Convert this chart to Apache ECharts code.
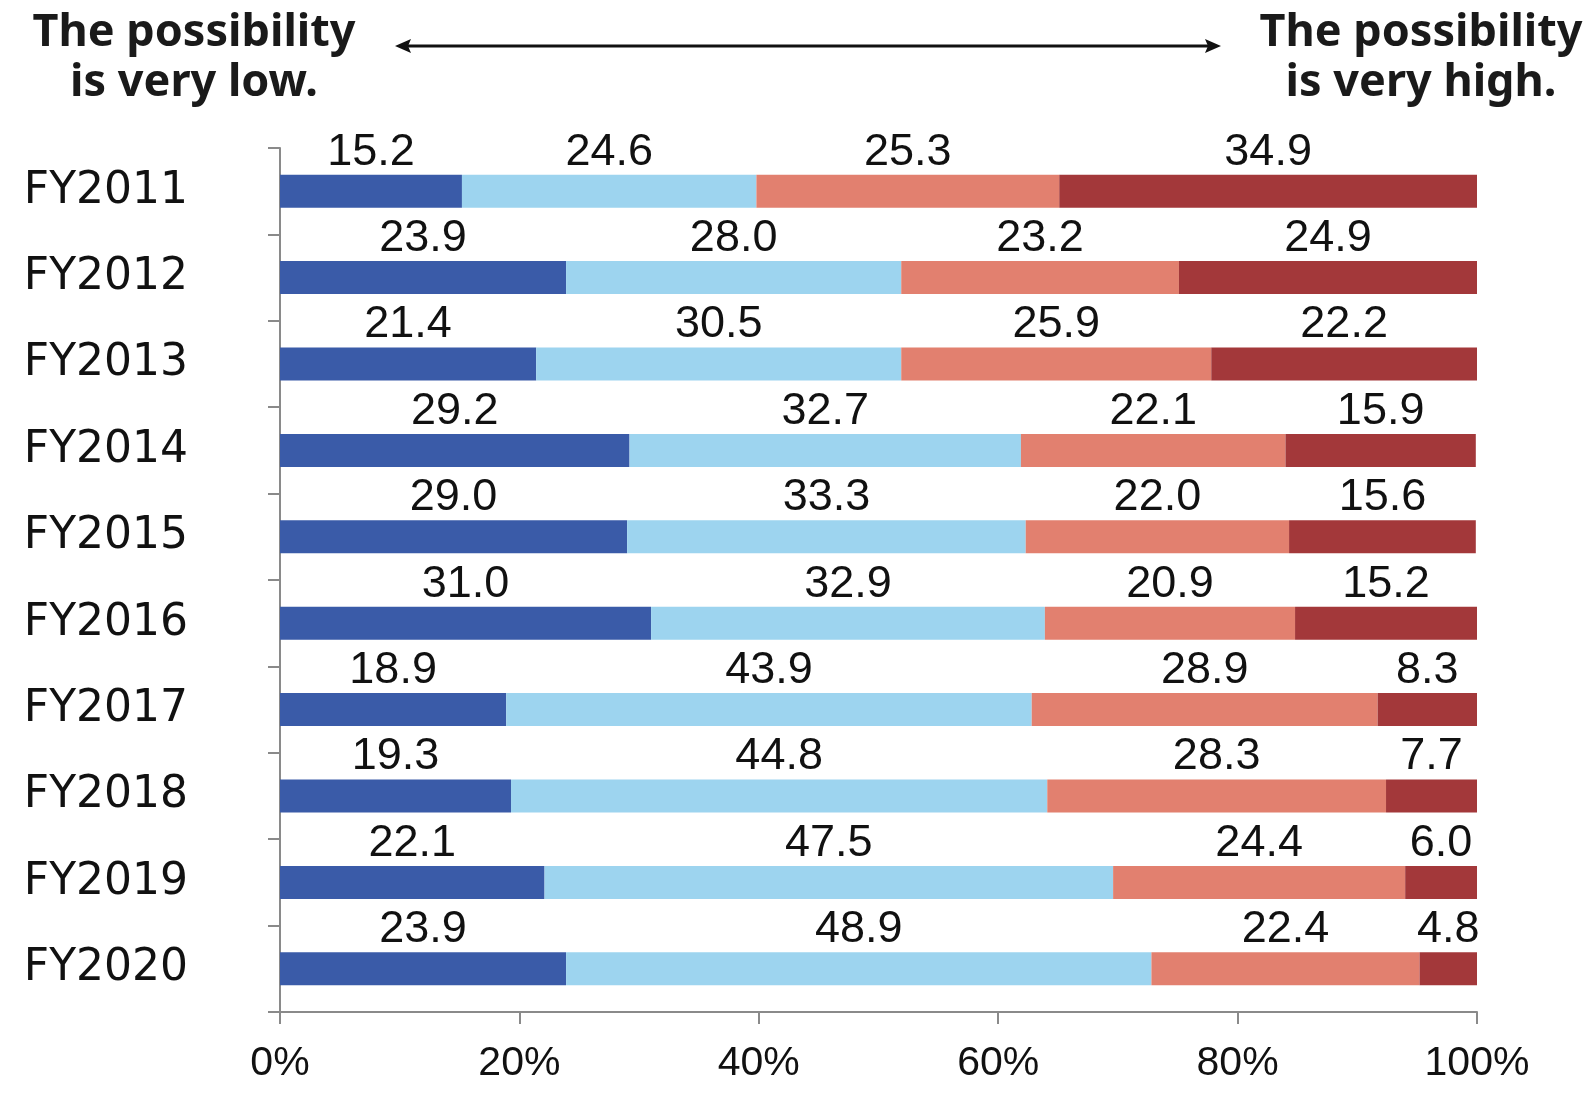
<!DOCTYPE html>
<html>
<head>
<meta charset="utf-8">
<script src="https://cdn.jsdelivr.net/npm/echarts@6/dist/echarts.min.js"></script>
<style>html,body{margin:0;padding:0;background:#fff}#c{width:1596px;height:1098px}</style>
</head>
<body>
<div id="c"></div>
<script>
const categories = ['FY2011','FY2012','FY2013','FY2014','FY2015','FY2016','FY2017','FY2018','FY2019','FY2020'];
const veryLow  = [15.2, 23.9, 21.4, 29.2, 29.0, 31.0, 18.9, 19.3, 22.1, 23.9];
const low      = [24.6, 28.0, 30.5, 32.7, 33.3, 32.9, 43.9, 44.8, 47.5, 48.9];
const high     = [25.3, 23.2, 25.9, 22.1, 22.0, 20.9, 28.9, 28.3, 24.4, 22.4];
const veryHigh = [34.9, 24.9, 22.2, 15.9, 15.6, 15.2, 8.3, 7.7, 6.0, 4.8];
const xTicks = [0, 20, 40, 60, 80, 100];
const leftHeading = 'The possibility\nis very low.';
const rightHeading = 'The possibility\nis very high.';

const colors = ['#3A5BA8', '#9DD4EF', '#E2806F', '#A3383A'];
const chart = echarts.init(document.getElementById('c'), null, {renderer: 'canvas'});

function mk(name, data, color) {
  return {
    name, type: 'bar', stack: 'all', data, barWidth: 33,
    itemStyle: {color},
    label: {
      show: true, position: 'top', distance: 0,
      formatter: p => p.value.toFixed(1),
      fontFamily: 'Liberation Sans, Arial, sans-serif', fontSize: 45, color: '#111'
    },
    emphasis: {disabled: true}
  };
}

const headFont = 'bold 45px "Noto Sans", sans-serif';
chart.setOption({
  animation: false,
  backgroundColor: '#fff',
  grid: {left: 280, right: 119, top: 148, bottom: 86, containLabel: false},
  xAxis: {
    type: 'value', min: 0, max: 100, interval: 20,
    axisLine: {show: true, lineStyle: {color: '#8a8a8a', width: 2}},
    axisTick: {show: true, length: 12, lineStyle: {color: '#8a8a8a', width: 2}},
    splitLine: {show: false},
    axisLabel: {
      margin: 31, fontFamily: 'Liberation Sans, Arial, sans-serif', fontSize: 41, color: '#111',
      formatter: v => xTicks.includes(v) ? v + '%' : ''
    }
  },
  yAxis: {
    type: 'category', data: categories, inverse: true,
    axisLine: {show: true, lineStyle: {color: '#8a8a8a', width: 2}},
    axisTick: {show: true, length: 12, lineStyle: {color: '#8a8a8a', width: 2}},
    axisLabel: {margin: 92, fontFamily: '"DejaVu Sans", sans-serif', fontSize: 44, color: '#111'}
  },
  series: [
    mk('Very low', veryLow, colors[0]),
    mk('Low', low, colors[1]),
    mk('High', high, colors[2]),
    mk('Very high', veryHigh, colors[3])
  ],
  graphic: [
    {type: 'text', x: 194, y: 8, style: {text: leftHeading, font: headFont, fill: '#1a1a1a', textAlign: 'center', textVerticalAlign: 'top', lineHeight: 50}},
    {type: 'text', x: 1421, y: 8, style: {text: rightHeading, font: headFont, fill: '#1a1a1a', textAlign: 'center', textVerticalAlign: 'top', lineHeight: 50}},
    {type: 'line', shape: {x1: 405, y1: 46, x2: 1211, y2: 46}, style: {stroke: '#111', lineWidth: 3}},
    {type: 'polygon', shape: {points: [[395, 46], [411, 39], [408, 46], [411, 53]]}, style: {fill: '#111'}},
    {type: 'polygon', shape: {points: [[1221, 46], [1205, 39], [1208, 46], [1205, 53]]}, style: {fill: '#111'}}
  ]
});
</script>
</body>
</html>
